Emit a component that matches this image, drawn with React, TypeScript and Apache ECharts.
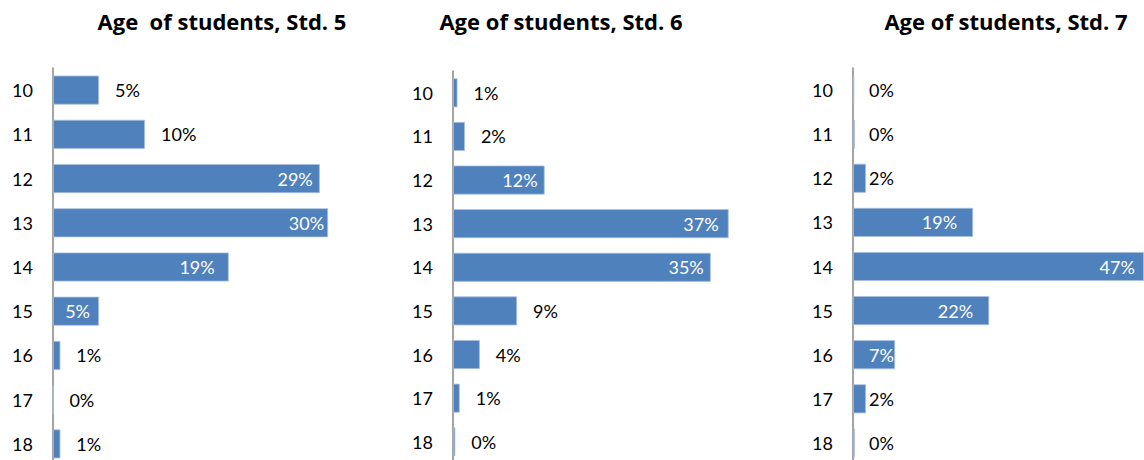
import React, { useEffect, useRef } from "react";
import * as echarts from "echarts";

const ages = ["10", "11", "12", "13", "14", "15", "16", "17", "18"];
const titles = ["Age  of students, Std. 5", "Age of students, Std. 6", "Age of students, Std. 7"];
const std5 = [5.0, 10.0, 29.0, 29.9, 19.1, 5.0, 0.8, 0, 0.8];
const std6 = [0.6, 1.6, 12.3, 37.0, 34.6, 8.6, 3.6, 0.9, 0.3];
const std7 = [0.2, 0.3, 2.1, 19.4, 47.0, 22.0, 6.8, 2.1, 0.3];

// label placement per bar: "out" = past the bar end, "in" = inside end, "base" = from axis
const place5 = ["out", "out", "in", "in", "in", "in", "out", "out", "out"];
const place6 = ["out", "out", "in", "in", "in", "out", "out", "out", "out"];
const place7 = ["base", "base", "base", "in", "in", "in", "base", "base", "base"];
const gapIn5 = [0, 0, 7, 4, 14, 9, 0, 0, 0];
const gapIn6 = [0, 0, 7, 10, 7, 0, 0, 0, 0];
const gapIn7 = [0, 0, 0, 16, 9, 16, 0, 0, 0];

const FONT = "Lato, 'Noto Sans', sans-serif";
const TITLE_FONT = "'Open Sans', Lato, sans-serif";
const BLUE = "#4F81BD";

const grids = [
  { left: 53, top: 68, height: 398, max: 35, scale: 9.2 },
  { left: 453, top: 71, height: 392.6, max: 45, scale: 7.45 },
  { left: 853, top: 68, height: 397, max: 50, scale: 6.19 },
];
const titleCenters = [222, 561, 1006];

function buildData(values: number[], place: string[], gaps: number[]) {
  return values.map((v, i) => {
    const p = place[i];
    let label: any;
    if (p === "in") {
      label = { position: "insideRight", distance: gaps[i], color: "#ffffff" };
    } else if (p === "base") {
      label = { position: "insideLeft", distance: 16, color: v >= 5 ? "#ffffff" : "#000000" };
    } else {
      label = { position: "right", distance: 16, color: "#000000" };
    }
    return { value: v, label };
  });
}

export default function App() {
  const ref = useRef<HTMLDivElement>(null);
  useEffect(() => {
    if (!ref.current) return;
    const chart = echarts.init(ref.current, null, { renderer: "svg" });
    const series = [
      buildData(std5, place5, gapIn5),
      buildData(std6, place6, gapIn6),
      buildData(std7, place7, gapIn7),
    ];
    chart.setOption({
      animation: false,
      backgroundColor: "#ffffff",
      title: titles.map((t, i) => ({
        text: t,
        left: titleCenters[i],
        top: 10,
        padding: 0,
        textAlign: "center",
        textStyle: { fontFamily: TITLE_FONT, fontWeight: "bold", fontSize: 22, color: "#000" },
      })),
      grid: grids.map((g) => ({
        left: g.left,
        top: g.top,
        height: g.height,
        width: g.max * g.scale,
        containLabel: false,
      })),
      xAxis: grids.map((g, i) => ({
        type: "value",
        gridIndex: i,
        min: 0,
        max: g.max,
        show: false,
      })),
      yAxis: grids.map((g, i) => ({
        type: "category",
        gridIndex: i,
        data: ages,
        inverse: true,
        axisLine: { show: true, lineStyle: { color: "#868686", width: 1.5 } },
        axisTick: { show: false },
        axisLabel: { color: "#000", fontFamily: FONT, fontSize: 18, margin: 20 },
        splitLine: { show: false },
      })),
      series: series.map((d, i) => ({
        type: "bar",
        xAxisIndex: i,
        yAxisIndex: i,
        data: d,
        barWidth: 29,
        itemStyle: { color: BLUE, borderColor: "#a9c0de", borderWidth: 0.8 },
        label: {
          show: true,
          fontFamily: FONT,
          fontSize: 18,
          formatter: (p: any) => `${Math.round(p.value)}%`,
        },
      })),
    });
    return () => chart.dispose();
  }, []);
  return (
    <div
      style={{
        position: "fixed",
        left: 0,
        top: 0,
        width: 1144,
        height: 460,
        overflow: "hidden",
        background: "#ffffff",
      }}
    >
      <div ref={ref} style={{ width: 1200, height: 500 }} />
    </div>
  );
}
